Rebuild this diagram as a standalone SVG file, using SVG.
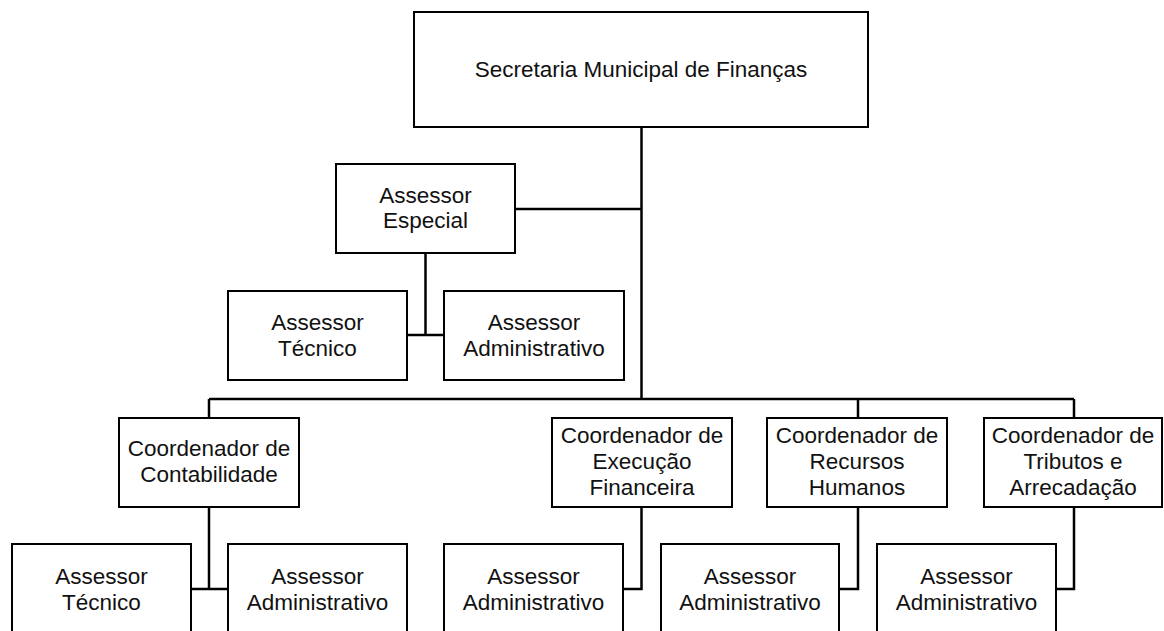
<svg xmlns="http://www.w3.org/2000/svg" width="1164" height="631" viewBox="0 0 1164 631">
<style>
.box{fill:#fff;stroke:#000;stroke-width:2}
.ln{fill:none;stroke:#000;stroke-width:2.5}
text{font-family:"Liberation Sans","Open Sans",sans-serif;font-size:22.5px;fill:#111;text-anchor:middle}
</style>
<rect width="1164" height="631" fill="#fff"/>
<g id="connectors">
<line class="ln" x1="641.5" y1="127" x2="641.5" y2="399"/>
<line class="ln" x1="515" y1="209" x2="641.5" y2="209"/>
<polyline class="ln" points="425.5,253 425.5,335"/>
<line class="ln" x1="407" y1="335" x2="444" y2="335"/>
<line class="ln" x1="209" y1="399" x2="1074" y2="399"/>
<line class="ln" x1="209" y1="399" x2="209" y2="418"/>
<line class="ln" x1="858" y1="399" x2="858" y2="418"/>
<line class="ln" x1="1074" y1="399" x2="1074" y2="418"/>
<polyline class="ln" points="209,507 209,589"/>
<line class="ln" x1="191" y1="589" x2="228" y2="589"/>
<polyline class="ln" points="641.5,507 641.5,589 623,589"/>
<polyline class="ln" points="858,507 858,589 839,589"/>
<polyline class="ln" points="1074,507 1074,589 1056,589"/>
</g>
<g id="secretaria"><rect class="box" x="414" y="12" width="454" height="115"/><text x="641" y="77">Secretaria Municipal de Finanças</text></g>
<g id="assessor-especial"><rect class="box" x="336" y="164" width="179" height="89"/><text x="425.5" y="203">Assessor</text><text x="425.5" y="228">Especial</text></g>
<g id="assessor-tecnico-1"><rect class="box" x="228" y="291" width="179" height="89"/><text x="317.5" y="330">Assessor</text><text x="317.5" y="356">Técnico</text></g>
<g id="assessor-admin-1"><rect class="box" x="444" y="291" width="180" height="89"/><text x="534" y="330">Assessor</text><text x="534" y="356">Administrativo</text></g>
<g id="coord-contabilidade"><rect class="box" x="119" y="418" width="180" height="89"/><text x="209" y="456">Coordenador de</text><text x="209" y="482">Contabilidade</text></g>
<g id="coord-execucao"><rect class="box" x="552" y="418" width="180" height="89"/><text x="642" y="443">Coordenador de</text><text x="642" y="469">Execução</text><text x="642" y="495">Financeira</text></g>
<g id="coord-rh"><rect class="box" x="767" y="418" width="180" height="89"/><text x="857" y="443">Coordenador de</text><text x="857" y="469">Recursos</text><text x="857" y="495">Humanos</text></g>
<g id="coord-tributos"><rect class="box" x="984" y="418" width="178" height="89"/><text x="1073" y="443">Coordenador de</text><text x="1073" y="469">Tributos e</text><text x="1073" y="495">Arrecadação</text></g>
<g id="assessor-tecnico-2"><rect class="box" x="12" y="544" width="179" height="92"/><text x="101.5" y="584">Assessor</text><text x="101.5" y="610">Técnico</text></g>
<g id="assessor-admin-2"><rect class="box" x="228" y="544" width="179" height="92"/><text x="317.5" y="584">Assessor</text><text x="317.5" y="610">Administrativo</text></g>
<g id="assessor-admin-3"><rect class="box" x="444" y="544" width="179" height="92"/><text x="533.5" y="584">Assessor</text><text x="533.5" y="610">Administrativo</text></g>
<g id="assessor-admin-4"><rect class="box" x="661" y="544" width="178" height="92"/><text x="750" y="584">Assessor</text><text x="750" y="610">Administrativo</text></g>
<g id="assessor-admin-5"><rect class="box" x="877" y="544" width="179" height="92"/><text x="966.5" y="584">Assessor</text><text x="966.5" y="610">Administrativo</text></g>
</svg>
